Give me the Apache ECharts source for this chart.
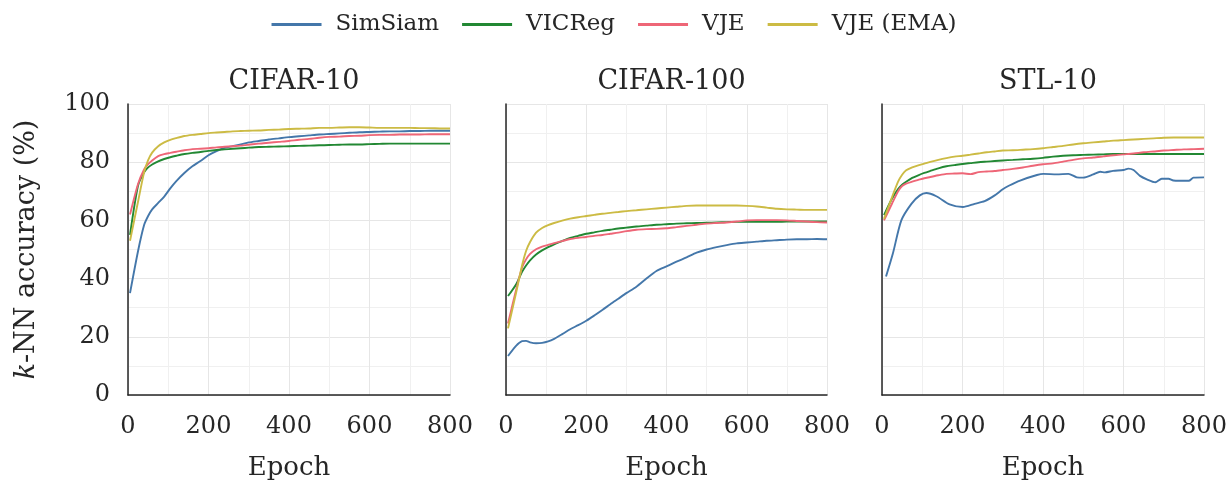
<!DOCTYPE html>
<html>
<head>
<meta charset="utf-8">
<script src="https://cdn.jsdelivr.net/npm/echarts@6/dist/echarts.min.js"></script>
<style>
  html, body { margin: 0; padding: 0; background: #fff; }
  #chart { width: 1228px; height: 483px; }
</style>
</head>
<body>
<div id="chart"></div>
<script>
// 数据
const datasets = ['CIFAR-10', 'CIFAR-100', 'STL-10']
const methods = ['SimSiam', 'VICReg', 'VJE', 'VJE (EMA)']
const colors = ['#4477AA', '#228833', '#EE6677', '#CCBB44']
const xTicks = [0, 200, 400, 600, 800]
const yTicks = [0, 20, 40, 60, 80, 100]

const epochs = [5, 25, 40, 50, 60, 75, 90, 105, 120, 140, 160, 180, 200, 220, 240, 260, 280, 300,
  325, 350, 375, 400, 425, 450, 475, 500, 525, 550, 575, 600, 625, 650, 675, 700, 725, 750, 775, 800]

// CIFAR-10
const c10SimSiam = [35, 49.5, 58.4, 61.5, 63.8, 66, 68.2, 71, 73.5, 76.3, 78.6, 80.4, 82.4, 83.8, 84.9, 85.5, 86.1, 86.8,
  87.3, 87.8, 88.2, 88.6, 88.9, 89.2, 89.5, 89.7, 89.9, 90.1, 90.3, 90.4, 90.5, 90.6, 90.6, 90.7, 90.7, 90.8, 90.8, 90.8]
const c10VICReg = [55, 72, 76.5, 78.2, 79.2, 80.3, 81.1, 81.7, 82.2, 82.8, 83.2, 83.5, 83.9, 84.2, 84.4, 84.6, 84.8, 85,
  85.2, 85.3, 85.4, 85.5, 85.6, 85.7, 85.8, 85.9, 86, 86.1, 86.1, 86.2, 86.3, 86.4, 86.4, 86.4, 86.4, 86.4, 86.4, 86.4]
const c10VJE = [62, 72.5, 77.5, 79.3, 80.6, 82.1, 82.8, 83.2, 83.6, 84.1, 84.5, 84.6, 84.8, 85.1, 85.3, 85.5, 85.7, 86,
  86.4, 86.7, 87, 87.3, 87.7, 88, 88.4, 88.7, 88.8, 89, 89.1, 89.3, 89.4, 89.4, 89.5, 89.5, 89.5, 89.6, 89.6, 89.6]
const c10VJEEma = [53, 66.5, 76.5, 80.7, 83.3, 85.5, 86.8, 87.7, 88.3, 89, 89.4, 89.7, 90, 90.2, 90.4, 90.6, 90.7, 90.8,
  90.9, 91.1, 91.2, 91.4, 91.5, 91.6, 91.8, 91.8, 91.9, 92, 92, 91.9, 91.8, 91.8, 91.8, 91.8, 91.7, 91.7, 91.6, 91.6]

// CIFAR-100
const c100SimSiam = [13.4, 16.9, 18.5, 18.6, 18.1, 17.8, 17.9, 18.4, 19.3, 20.9, 22.6, 24, 25.5, 27.3, 29.2, 31.2, 33.1, 35,
  37.2, 40, 42.6, 44.2, 45.8, 47.3, 48.9, 50, 50.8, 51.5, 52.1, 52.4, 52.7, 53, 53.2, 53.4, 53.5, 53.5, 53.6, 53.5]
const c100VICReg = [34, 38, 42.3, 44.5, 46.3, 48.3, 49.7, 50.8, 51.8, 52.9, 54, 54.7, 55.4, 55.9, 56.4, 56.8, 57.2, 57.5,
  57.9, 58.2, 58.5, 58.7, 58.9, 59, 59.1, 59.2, 59.3, 59.4, 59.5, 59.5, 59.5, 59.5, 59.5, 59.6, 59.6, 59.6, 59.6, 59.6]
const c100VJE = [24.6, 36, 43.8, 46.6, 48.5, 50.1, 51, 51.6, 52.2, 52.9, 53.6, 54, 54.3, 54.7, 55, 55.4, 55.8, 56.3,
  56.8, 57, 57.1, 57.3, 57.7, 58.1, 58.5, 58.9, 59.1, 59.3, 59.6, 60, 60.1, 60.1, 60.1, 60, 59.8, 59.6, 59.4, 59.3]
const c100VJEEma = [22.9, 35, 44.5, 49.5, 52.6, 55.8, 57.4, 58.4, 59.1, 59.9, 60.6, 61.1, 61.5, 61.9, 62.3, 62.6, 62.9, 63.2,
  63.5, 63.8, 64.1, 64.4, 64.7, 65, 65.1, 65.1, 65.1, 65.1, 65.1, 65, 64.8, 64.4, 64, 63.8, 63.7, 63.6, 63.6, 63.6]

// STL-10 (SimSiam 曲线波动较大，单独取点)
const stlSimSiamEpochs = [10, 27, 48, 73, 94, 110, 135, 168, 201, 230, 255, 280, 300, 315, 343, 385, 401, 434, 463, 484,
  500, 525, 542, 554, 574, 600, 612, 625, 641, 658, 679, 695, 712, 724, 762, 774, 800]
const stlSimSiam = [40.7, 48.6, 60, 65.7, 68.6, 69.4, 68.3, 65.5, 64.6, 65.7, 66.6, 68.6, 70.7, 71.9, 73.7, 75.6, 76, 75.8, 76, 74.8,
  74.7, 75.8, 76.7, 76.5, 77, 77.3, 77.8, 77.3, 75.3, 74.1, 73.1, 74.3, 74.3, 73.7, 73.6, 74.7, 74.8]
const stlVICReg = [61.8, 67.5, 70.8, 72.3, 73.3, 74.6, 75.5, 76.3, 77, 77.9, 78.6, 79, 79.4, 79.7, 80, 80.2, 80.4, 80.6,
  80.8, 81, 81.2, 81.5, 81.9, 82.2, 82.4, 82.5, 82.6, 82.7, 82.8, 82.8, 82.8, 82.8, 82.8, 82.8, 82.8, 82.8, 82.8, 82.8]
const stlVJE = [60, 65.8, 70, 71.8, 72.6, 73.3, 73.9, 74.5, 74.9, 75.5, 76, 76.1, 76.2, 75.9, 76.6, 76.8, 77, 77.3,
  77.7, 78.2, 78.8, 79.3, 79.6, 80.2, 80.8, 81.3, 81.6, 82, 82.4, 82.7, 83, 83.4, 83.7, 84, 84.2, 84.4, 84.5, 84.6]
const stlVJEEma = [60.5, 68, 73.3, 75.7, 77.2, 78.2, 78.9, 79.5, 80.1, 80.8, 81.4, 81.9, 82.2, 82.6, 83, 83.4, 83.7, 84,
  84.1, 84.3, 84.5, 84.8, 85.2, 85.6, 86.1, 86.5, 86.8, 87.1, 87.4, 87.6, 87.8, 88, 88.2, 88.4, 88.5, 88.5, 88.5, 88.5]

const seriesData = [
  [[epochs, c10SimSiam], [epochs, c10VICReg], [epochs, c10VJE], [epochs, c10VJEEma]],
  [[epochs, c100SimSiam], [epochs, c100VICReg], [epochs, c100VJE], [epochs, c100VJEEma]],
  [[stlSimSiamEpochs, stlSimSiam], [epochs, stlVICReg], [epochs, stlVJE], [epochs, stlVJEEma]]
]

const font = 'DejaVu Serif'
const textColor = '#262626'
// outerBoundsMode: 'none' 防止 v6 自动收缩绘图区
const grids = [
  { left: 128, width: 322, top: 104, bottom: 88, outerBoundsMode: 'none' },
  { left: 506, width: 321, top: 104, bottom: 88, outerBoundsMode: 'none' },
  { left: 882, width: 322, top: 104, bottom: 88, outerBoundsMode: 'none' }
]

const chart = echarts.init(document.getElementById('chart'), null, { renderer: 'canvas' })

const xAxes = grids.map((g, i) => ({
  type: 'value',
  gridIndex: i,
  min: xTicks[0],
  max: xTicks[xTicks.length - 1],
  interval: xTicks[1] - xTicks[0],
  name: 'Epoch',
  nameLocation: 'middle',
  nameGap: 60,
  nameTextStyle: { fontFamily: font, fontSize: 26, color: textColor },
  axisLine: { show: true, lineStyle: { color: textColor, width: 1.5 } },
  axisTick: { show: false },
  axisLabel: { fontFamily: font, fontSize: 24, color: textColor, margin: 20 },
  splitLine: { show: true, lineStyle: { color: '#e6e6e6', width: 1 } },
  minorTick: { show: false, splitNumber: 2 },
  minorSplitLine: { show: true, lineStyle: { color: '#f0f0f0', width: 1 } }
}))

const yAxes = grids.map((g, i) => ({
  type: 'value',
  gridIndex: i,
  min: yTicks[0],
  max: yTicks[yTicks.length - 1],
  interval: yTicks[1] - yTicks[0],
  name: i === 0 ? '{i|k}-NN accuracy (%)' : '',
  nameLocation: 'middle',
  nameGap: 88,
  nameTextStyle: {
    fontFamily: font, fontSize: 27, color: textColor,
    rich: { i: { fontFamily: font, fontSize: 27, fontStyle: 'italic', color: textColor } }
  },
  axisLine: { show: true, lineStyle: { color: textColor, width: 1.5 } },
  axisTick: { show: false },
  axisLabel: { show: i === 0, fontFamily: font, fontSize: 24, color: textColor, margin: 18 },
  splitLine: { show: true, lineStyle: { color: '#e6e6e6', width: 1 } },
  minorTick: { show: false, splitNumber: 2 },
  minorSplitLine: { show: true, lineStyle: { color: '#f0f0f0', width: 1 } }
}))

const series = []
datasets.forEach((ds, gi) => {
  methods.forEach((m, mi) => {
    const [xs, ys] = seriesData[gi][mi]
    series.push({
      name: m,
      type: 'line',
      xAxisIndex: gi,
      yAxisIndex: gi,
      symbol: 'none',
      smooth: 0.25,
      z: 2 + mi,
      lineStyle: { color: colors[mi], width: 1.9 },
      itemStyle: { color: colors[mi] },
      data: xs.map((x, k) => [x, ys[k]])
    })
  })
})

chart.setOption({
  animation: false,
  backgroundColor: '#fff',
  color: colors,
  title: datasets.map((ds, i) => ({
    text: ds,
    left: grids[i].left + grids[i].width / 2,
    textAlign: 'center',
    top: 63,
    textStyle: { fontFamily: font, fontSize: 27, fontWeight: 'normal', color: textColor }
  })),
  legend: {
    top: 8,
    left: 'center',
    data: methods,
    // 细长矩形当作线条图例
    icon: 'path://M0,0L50,0L50,3L0,3Z',
    itemWidth: 50,
    itemHeight: 3,
    itemGap: 23,
    textStyle: { fontFamily: font, fontSize: 23, color: textColor, padding: [0, 0, 0, 9] }
  },
  grid: grids,
  xAxis: xAxes,
  yAxis: yAxes,
  series: series
})

window.addEventListener('resize', () => chart.resize())
</script>
</body>
</html>
